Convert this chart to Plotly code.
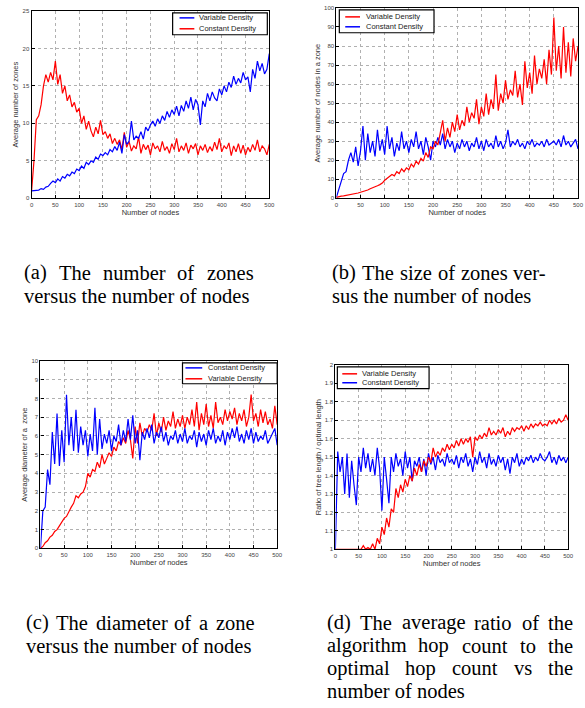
import plotly.graph_objects as go

nodes = list(range(0, 505, 5))

# (a) Average number of zones
a_variable = [1.0, 1.0, 1.0, 1.1, 1.3, 1.2, 1.5, 1.6, 2.0, 2.3, 2.1, 2.6, 2.3, 2.9, 2.7, 3.2, 3.0, 3.5, 3.3, 3.9,
              3.7, 4.3, 4.0, 4.8, 4.5, 5.0, 4.8, 5.5, 5.2, 5.9, 5.7, 6.1, 5.8, 6.5, 6.2, 6.9, 6.4, 7.5, 6.0, 8.5,
              7.2, 7.6, 10.3, 7.8, 8.3, 8.0, 8.9, 7.9, 9.5, 9.0, 9.8, 10.3, 9.6, 10.6, 10.0, 11.0, 10.4, 11.6, 10.8, 11.8,
              11.2, 12.3, 11.0, 12.4, 11.6, 13.0, 12.0, 13.5, 11.8, 13.2, 12.5, 9.8, 13.0, 12.2, 14.0, 13.0, 14.2, 13.4, 13.0, 14.6,
              13.8, 15.0, 14.2, 15.5, 14.8, 16.3, 15.2, 16.0, 15.4, 16.8, 15.8, 16.2, 14.2, 17.2, 16.0, 18.3, 17.0, 18.0, 16.6, 17.2,
              19.3]
a_constant = [1.0, 5.0, 10.5, 11.0, 12.5, 15.0, 16.5, 15.5, 16.8, 15.8, 18.3, 15.2, 16.5, 14.0, 15.0, 13.0, 13.8, 12.2, 12.8, 11.5,
              12.0, 10.0, 11.0, 9.2, 10.3, 9.0, 8.2, 9.5, 8.6, 10.4, 8.5, 8.9, 8.0, 8.6, 7.3, 8.0, 7.2, 7.8, 6.5, 8.8,
              6.8, 7.6, 6.3, 7.0, 6.6, 8.2, 6.0, 7.2, 6.5, 7.1, 5.8, 7.4, 6.6, 7.0, 6.2, 7.6, 6.4, 6.9, 6.0, 7.3,
              6.5, 8.0, 6.2, 7.0, 6.4, 7.4, 6.0, 7.1, 6.6, 7.3, 5.8, 7.0, 6.4, 7.2, 6.1, 6.9, 6.3, 7.5, 6.5, 8.0,
              6.2, 7.0, 6.6, 7.4, 5.7, 7.0, 6.2, 7.3, 6.0, 7.1, 5.8, 6.8, 6.2, 7.2, 6.4, 7.8, 6.2, 7.0, 6.6, 5.8,
              7.2]

# (b) Average number of nodes in a zone
b_variable = [0.5, 1.0, 1.2, 1.3, 1.5, 1.7, 2.0, 2.2, 2.5, 2.8, 3.2, 3.5, 4.0, 4.4, 5.0, 5.4, 6.0, 6.6, 7.2, 8.0,
              9.5, 10.5, 11.0, 12.5, 11.8, 14.0, 13.0, 15.5, 14.0, 16.0, 15.0, 18.0, 16.5, 19.5, 18.0, 21.0, 19.5, 24.0, 21.5, 27.0,
              26.0, 30.0, 28.0, 34.0, 41.0, 30.0, 37.0, 32.0, 40.0, 35.0, 44.0, 36.0, 41.0, 38.0, 48.0, 40.0, 45.0, 42.0, 52.0, 39.0,
              48.0, 43.0, 55.0, 44.0, 52.0, 47.0, 65.0, 46.0, 55.0, 50.0, 62.0, 52.0, 57.0, 54.0, 67.0, 53.0, 60.0, 49.0, 72.0, 58.0,
              66.0, 55.0, 75.0, 60.0, 68.0, 63.0, 73.0, 60.0, 78.0, 65.0, 95.0, 67.0, 80.0, 63.0, 90.0, 66.0, 82.0, 64.0, 84.0, 72.0,
              80.0]
b_constant = [0.5, 5.0, 9.0, 13.0, 14.0, 20.0, 24.0, 19.0, 27.0, 17.0, 25.0, 38.0, 20.0, 34.0, 24.0, 30.0, 22.0, 36.0, 25.0, 31.0,
              23.0, 38.0, 26.0, 32.0, 22.0, 29.0, 25.0, 35.0, 26.0, 30.0, 24.0, 31.0, 27.0, 35.0, 26.0, 30.0, 23.0, 32.0, 27.0, 20.0,
              30.0, 27.0, 32.0, 28.0, 34.0, 26.0, 31.0, 27.0, 30.0, 24.0, 29.0, 26.0, 31.0, 27.0, 30.0, 25.0, 29.0, 27.0, 32.0, 26.0,
              30.0, 25.0, 31.0, 27.0, 29.0, 26.0, 33.0, 27.0, 30.0, 26.0, 29.0, 36.0, 27.0, 30.0, 28.0, 31.0, 27.0, 29.0, 26.0, 30.0,
              28.0, 31.0, 27.0, 29.0, 28.0, 30.0, 27.0, 31.0, 28.0, 29.0, 30.0, 28.0, 31.0, 27.0, 33.0, 28.0, 30.0, 27.0, 29.0, 31.0,
              26.0]

# (c) Average diameter of a zone
c_constant = [0.0, 2.0, 2.2, 4.2, 3.4, 6.2, 4.5, 7.2, 4.4, 6.3, 4.6, 8.2, 5.5, 7.0, 5.2, 7.4, 5.1, 6.5, 5.5, 6.3,
              4.9, 6.1, 5.2, 7.5, 5.0, 6.9, 5.3, 6.1, 5.6, 6.3, 5.2, 6.0, 5.7, 6.6, 5.5, 6.3, 5.7, 6.9, 5.8, 7.1,
              5.6, 6.3, 4.7, 6.2, 5.8, 6.4, 5.9, 6.6, 5.6, 6.2, 5.9, 6.5, 5.7, 6.2, 5.5, 6.0, 5.8, 6.3, 5.6, 6.1,
              5.7, 6.4, 5.6, 6.0, 5.8, 6.3, 5.4, 6.2, 5.7, 6.1, 5.5, 6.3, 5.8, 6.4, 5.6, 6.0, 5.7, 6.3, 5.5, 6.2,
              5.8, 6.4, 5.9, 6.5, 5.7, 6.1, 5.6, 6.3, 5.8, 6.4, 5.6, 6.2, 5.7, 6.0, 5.8, 6.3, 5.6, 5.9, 6.1, 6.4,
              5.5]
c_variable = [0.0, 0.1, 0.3, 0.4, 0.6, 0.7, 0.9, 1.0, 1.2, 1.4, 1.6, 1.7, 2.0, 2.2, 2.4, 2.8, 2.7, 2.9, 3.0, 3.3,
              4.0, 3.8, 4.2, 4.1, 4.6, 4.3, 5.0, 4.5, 4.8, 5.1, 4.9, 5.4, 5.2, 5.7, 5.5, 5.9, 5.6, 6.3, 5.8, 4.8,
              6.5, 5.6, 6.7, 6.0, 6.4, 6.2, 6.6, 6.3, 7.2, 6.0, 6.7, 6.2, 7.0, 6.3, 6.8, 6.5, 7.3, 6.4, 6.9, 6.5,
              7.1, 6.4, 7.0, 6.6, 7.4, 6.5, 7.8, 6.3, 7.2, 6.6, 7.7, 6.5, 7.1, 6.4, 7.8, 6.7, 7.0, 6.6, 7.4, 6.8,
              7.3, 6.9, 7.5, 6.6, 7.2, 6.8, 7.4, 6.5, 7.0, 8.2, 6.8, 7.2, 6.5, 7.4, 6.7, 7.3, 6.6, 6.9, 6.4, 7.6,
              6.6]

# (d) Ratio of tree length / optimal length
d_variable = [1.0, 1.0, 1.0, 1.0, 1.0, 1.0, 1.0, 1.0, 1.0, 1.0, 1.0, 1.0, 1.02, 1.0, 1.01, 1.0, 1.03, 1.0, 1.06, 1.03,
              1.12, 1.08, 1.17, 1.12, 1.22, 1.2, 1.33, 1.28, 1.35, 1.31, 1.38, 1.34, 1.4, 1.37, 1.44, 1.4, 1.46, 1.42, 1.48, 1.45,
              1.5, 1.47, 1.55, 1.5, 1.53, 1.51, 1.55, 1.53, 1.57, 1.54, 1.57, 1.55, 1.59, 1.56, 1.6, 1.57, 1.6, 1.58, 1.61, 1.5,
              1.61, 1.59, 1.62, 1.6, 1.63, 1.61, 1.66, 1.62, 1.64, 1.62, 1.65, 1.63, 1.66, 1.61, 1.64, 1.62, 1.66, 1.64, 1.66, 1.65,
              1.67, 1.64, 1.67, 1.65, 1.68, 1.66, 1.68, 1.67, 1.69, 1.67, 1.68, 1.67, 1.70, 1.68, 1.70, 1.68, 1.71, 1.69, 1.70, 1.73,
              1.70]
d_constant = [1.0, 1.53, 1.42, 1.5, 1.3, 1.52, 1.28, 1.48, 1.35, 1.24, 1.5, 1.42, 1.55, 1.44, 1.52, 1.42, 1.49, 1.4, 1.55, 1.44,
              1.21, 1.5, 1.38, 1.25, 1.5, 1.42, 1.52, 1.45, 1.49, 1.4, 1.53, 1.44, 1.5, 1.37, 1.48, 1.45, 1.5, 1.42, 1.49, 1.4,
              1.52, 1.46, 1.5, 1.43, 1.51, 1.47, 1.49, 1.45, 1.52, 1.47, 1.49, 1.46, 1.51, 1.44, 1.5, 1.47, 1.52, 1.45, 1.49, 1.42,
              1.5, 1.46, 1.53, 1.47, 1.5, 1.44, 1.52, 1.46, 1.49, 1.45, 1.51, 1.47, 1.5, 1.43, 1.49, 1.41, 1.5, 1.47, 1.52, 1.45,
              1.49, 1.46, 1.5, 1.48, 1.51, 1.47, 1.5, 1.48, 1.52, 1.49, 1.48, 1.5, 1.53, 1.47, 1.5, 1.46, 1.51, 1.48, 1.5, 1.47,
              1.5]

x_ticks = list(range(0, 550, 50))

caption_a = ["(a) The number of zones", "versus the number of nodes"]
caption_b = ["(b) The size of zones ver-", "sus the number of nodes"]
caption_c = ["(c) The diameter of a zone", "versus the number of nodes"]
caption_d = ["(d) The average ratio of the", "algorithm hop count to the",
             "optimal hop count vs the", "number of nodes"]

W, H = 585, 708
RED = "#ff0000"
BLUE = "#0000ff"
SANS = "Liberation Sans, Arial, sans-serif"
SERIF = "Liberation Serif, Times New Roman, serif"
CAP_SIZE = 20.5


def px(x):
    return x / W


def py(y):
    return 1 - y / H


panels = [
    dict(box=(30, 271, 8, 197), yr=[0, 25], dt=5, title="Average number of zones",
         series=[("Variable Density", a_variable, BLUE), ("Constant Density", a_constant, RED)],
         leg=(173, 269, 10, 32, 180, 195, 198, 15, 26)),
    dict(box=(339, 584, 5, 197), yr=[0, 100], dt=10, title="Average number of nodes in a zone",
         series=[("Variable Density", b_variable, RED), ("Constant Density", b_constant, BLUE)],
         leg=(342, 438, 7, 30, 348, 363, 367, 14, 24)),
    dict(box=(39, 279, 361, 550), yr=[0, 10], dt=1, title="Average diameter of a  zone",
         series=[("Constant Density", c_constant, BLUE), ("Variable Density", c_variable, RED)],
         leg=(183, 279, 363, 384, 186, 203, 207, 368, 379)),
    dict(box=(338, 574, 365, 551), yr=[1, 2], dt=0.1, title="Ratio of tree length / optimal length",
         series=[("Variable Density", d_variable, RED), ("Constant Density", d_constant, BLUE)],
         leg=(340, 433, 367, 389, 345, 360, 363, 374, 383)),
]

fig = go.Figure()
shapes = []
annotations = []
layout = dict(width=W, height=H, margin=dict(l=0, r=0, t=0, b=0),
              paper_bgcolor="white", plot_bgcolor="white", showlegend=False,
              font=dict(family=SANS, color="#333333"))

for i, p in enumerate(panels):
    n = "" if i == 0 else str(i + 1)
    x0, x1, yt, yb = p["box"]
    for name, vals, col in reversed(p["series"]):
        fig.add_trace(go.Scatter(x=nodes, y=vals, mode="lines", name=name,
                                 line=dict(color=col, width=1.2),
                                 xaxis="x" + n, yaxis="y" + n, showlegend=False))
    common = dict(showline=True, linecolor="black", linewidth=1.2, mirror=True,
                  ticks="inside", ticklen=3, tickcolor="black",
                  showgrid=True, gridcolor="#b0b0b0", griddash="dot", gridwidth=1,
                  zeroline=False, tickfont=dict(size=6, family=SANS, color="#444444"))
    layout["xaxis" + n] = dict(common, domain=[px(x0), px(x1)], range=[0, 500],
                               tickvals=x_ticks, anchor="y" + n,
                               title=dict(text="Number of nodes", font=dict(size=7.5, color="#333333"), standoff=2))
    ydt = p["dt"]
    yvals = [round(p["yr"][0] + k * ydt, 2) for k in range(int(round((p["yr"][1] - p["yr"][0]) / ydt)) + 1)]
    ytext = [("%g" % v) for v in yvals]
    layout["yaxis" + n] = dict(common, domain=[py(yb), py(yt)], range=p["yr"],
                               tickvals=yvals, ticktext=ytext, anchor="x" + n,
                               title=dict(text=p["title"], font=dict(size=7.5, color="#333333"), standoff=2))
    lx0, lx1, ly0, ly1, sx0, sx1, tx, r1, r2 = p["leg"]
    shapes.append(dict(type="rect", xref="paper", yref="paper", x0=px(lx0), x1=px(lx1), y0=py(ly1), y1=py(ly0),
                       line=dict(color="black", width=1.2), fillcolor="white", layer="above"))
    for (name, vals, col), ry in zip(p["series"], (r1, r2)):
        shapes.append(dict(type="line", xref="paper", yref="paper", x0=px(sx0), x1=px(sx1), y0=py(ry), y1=py(ry),
                           line=dict(color=col, width=1.5), layer="above"))
        annotations.append(dict(xref="paper", yref="paper", x=px(tx), y=py(ry), text=name, showarrow=False,
                                xanchor="left", yanchor="middle", font=dict(size=7.5, family=SANS, color="#222222")))

# Times (Liberation Serif) advance widths, per 1000 em, for justified caption lines
TW = {' ': 250, '(': 333, ')': 333, '-': 333, 'T': 611, 'a': 444, 'b': 500, 'c': 444, 'd': 500, 'e': 444,
      'f': 333, 'g': 500, 'h': 500, 'i': 278, 'l': 278, 'm': 778, 'n': 500, 'o': 500, 'p': 500, 'r': 333,
      's': 389, 't': 278, 'u': 500, 'v': 500, 'z': 444}


def word_w(w):
    return sum(TW.get(c, 500) for c in w) / 1000 * CAP_SIZE


def add_caption(lines, x_start, y_start, col_w, dy=23):
    for k, line in enumerate(lines):
        y = y_start + k * dy
        last = (k == len(lines) - 1)
        if last:
            annotations.append(dict(xref="paper", yref="paper", x=px(x_start), y=py(y), text=line,
                                    showarrow=False, xanchor="left", yanchor="middle",
                                    font=dict(size=CAP_SIZE, family=SERIF, color="black")))
            continue
        words = line.split(" ")
        total = sum(word_w(w) for w in words)
        gap = (col_w - total) / (len(words) - 1)
        xc = x_start
        for w in words:
            annotations.append(dict(xref="paper", yref="paper", x=px(xc), y=py(y), text=w,
                                    showarrow=False, xanchor="left", yanchor="middle",
                                    font=dict(size=CAP_SIZE, family=SERIF, color="black")))
            xc += word_w(w) + gap


add_caption(caption_a, 20, 272, 232)
add_caption(caption_b, 333, 272, 216)
add_caption(caption_c, 22, 625, 232)
add_caption(caption_d, 327, 625, 250)

layout["shapes"] = shapes
layout["annotations"] = annotations
fig.update_layout(**layout)
fig.write_html("out.html", config={"displayModeBar": False},
               post_script="document.body.style.margin='0px';")
